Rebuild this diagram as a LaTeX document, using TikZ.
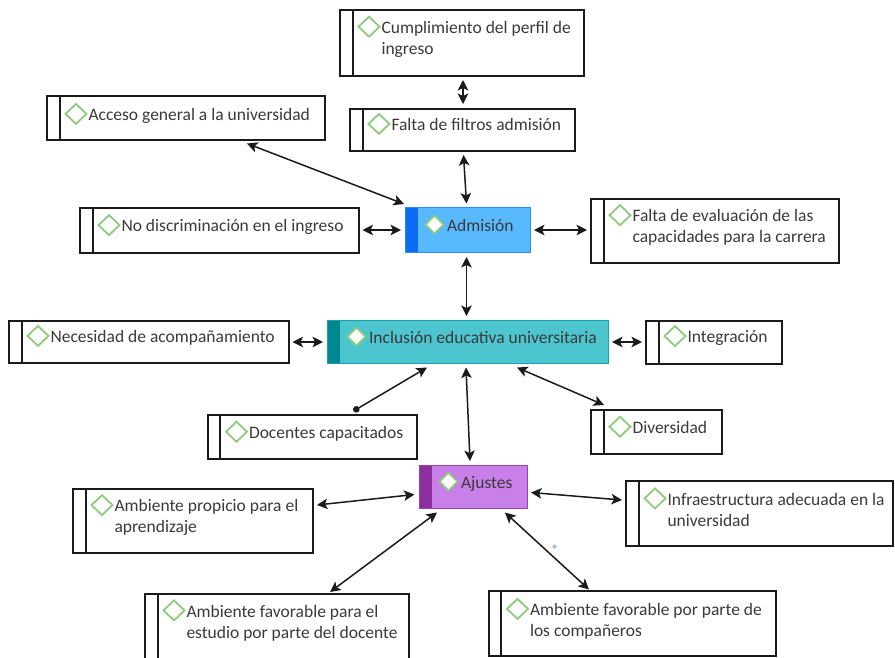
\documentclass[tikz,border=0pt]{standalone}
\usepackage{fontspec}
\setmainfont{Carlito}
\usetikzlibrary{calc,arrows.meta}
\definecolor{boxline}{HTML}{1A1A1A}
\definecolor{txtgray}{HTML}{3A3A3A}
\definecolor{dgreen}{HTML}{8FCB7D}
\definecolor{conn}{HTML}{1A1A1A}
\definecolor{admfill}{HTML}{58B9FF}
\definecolor{admstrip}{HTML}{0A6EF5}
\definecolor{admborder}{HTML}{2A8CF0}
\definecolor{incfill}{HTML}{4CC5CE}
\definecolor{incstrip}{HTML}{00878F}
\definecolor{incborder}{HTML}{1BA3AC}
\definecolor{ajufill}{HTML}{C880E8}
\definecolor{ajustrip}{HTML}{8C2E9E}
\definecolor{ajuborder}{HTML}{9B3FB5}
\definecolor{stray}{HTML}{A8C0E0}
\tikzset{
  wbox/.style={draw=boxline, line width=2pt, fill=white, outer sep=0pt, inner sep=0pt,
    path picture={\draw[boxline, line width=2pt]
      ([xshift=12.5pt]path picture bounding box.north west) --
      ([xshift=12.5pt]path picture bounding box.south west);}},
  cbox/.style={line width=1pt, outer sep=0pt, inner sep=0pt},
  cadm/.style={cbox, draw=admborder, fill=admfill,
    path picture={\fill[admstrip] (path picture bounding box.north west) rectangle
      ([xshift=13pt]path picture bounding box.south west);}},
  cinc/.style={cbox, draw=incborder, fill=incfill,
    path picture={\fill[incstrip] (path picture bounding box.north west) rectangle
      ([xshift=13pt]path picture bounding box.south west);}},
  caju/.style={cbox, draw=ajuborder, fill=ajufill,
    path picture={\fill[ajustrip] (path picture bounding box.north west) rectangle
      ([xshift=13pt]path picture bounding box.south west);}},
  txt/.style={anchor=north west, inner sep=0pt, outer sep=0pt, align=left,
    font=\fontsize{17.5}{21}\selectfont, text=txtgray},
  diam/.style={draw=dgreen, line width=1.8pt, line join=miter},
  tipa/.tip={Stealth[length=10.5pt,width=10.5pt,inset=2.5pt]},
  con/.style={draw=conn, line width=1.5pt, arrows={tipa-tipa}},
  condot/.style={draw=conn, line width=1.5pt, arrows={Circle[length=6.5pt]-tipa}}
}
% white box: name, x1, y1, x2, y2, baseline offset, text
\newcommand\wb[7]{%
  \node[wbox, minimum width={#4-#2}, minimum height={#5-#3}] (#1) at ({(#2+#4)/2},{(#3+#5)/2}) {};
  \draw[diam] ($(#1.north west)+(29,#6-6.6)$) +(-10.5,0) -- +(0,-10) -- +(10.5,0) -- +(0,10) -- cycle;
  \node[txt] (#1-t) at ($(#1.north west)+(41.5,#6-14.7)$) {\strut #7};
}
% coloured box: name, style, x1, y1, x2, y2, baseline offset, text
\newcommand\cb[8]{%
  \node[#2, minimum width={#5-#3}, minimum height={#6-#4}] (#1) at ({(#3+#5)/2},{(#4+#6)/2}) {};
  \draw[diam, fill=white] ($(#1.north west)+(29.5,#7-6.6)$) +(-9,0) -- +(0,-9) -- +(9,0) -- +(0,9) -- cycle;
  \node[txt] (#1-t) at ($(#1.north west)+(42,#7-14.7)$) {\strut #8};
}
\begin{document}
\begin{tikzpicture}[x=1pt, y=-1pt]
\useasboundingbox (0,0) rectangle (895,657);
% boxes
\wb{cump}{340}{10}{584}{75.5}{23.3}{Cumplimiento del perfil de\\ingreso}
\wb{filt}{350}{108.5}{575}{151}{22}{Falta de filtros admisión}
\wb{acc}{47}{96}{325}{139.5}{24.5}{Acceso general a la universidad}
\wb{nod}{80}{207.5}{358.5}{252.5}{24.2}{No discriminación en el ingreso}
\cb{adm}{cadm}{405}{207.5}{530}{252.5}{23.7}{Admisión}
\wb{eval}{591}{198.5}{838.5}{262.5}{23.3}{Falta de evaluación de las\\capacidades para la carrera}
\wb{nec}{9}{321}{288.5}{362.5}{21.5}{Necesidad de acompañamiento}
\cb{inc}{cinc}{327}{320}{608}{363.5}{23.3}{Inclusión educativa universitaria}
\wb{integ}{646}{320.5}{782}{363.5}{22.2}{Integración}
\wb{doc}{207.5}{415}{416.5}{459}{23.3}{Docentes capacitados}
\wb{div}{591}{409.5}{721.5}{453.5}{23.8}{Diversidad}
\cb{aju}{caju}{419}{465.5}{527}{508.5}{22.8}{Ajustes}
\wb{prop}{73}{489}{313}{552.5}{22.7}{Ambiente propicio para el\\aprendizaje}
\wb{infra}{626}{481}{893}{546}{24}{Infraestructura adecuada en la\\universidad}
\wb{amd}{145}{594}{408.5}{662}{23}{Ambiente favorable para el\\estudio por parte del docente}
\wb{comp}{488.5}{591}{776}{656}{24.5}{Ambiente favorable por parte de\\los compañeros}
% connectors
\draw[con] ($(cump.north west)+(123,70)$) -- ($(filt.north west)+(113,-4.5)$);
\draw[con] ($(filt.north west)+(113.5,46.5)$) -- ($(adm.north west)+(61.5,-4)$);
\draw[con] ($(acc.north west)+(200,47.5)$) -- ($(adm.north west)+(-1,-3.5)$);
\draw[con] ($(nod.north west)+(282.5,22.5)$) -- ($(adm.north west)+(-4,22.5)$);
\draw[con] ($(adm.north west)+(129,22.5)$) -- ($(eval.north west)+(-4,31.5)$);
\draw[con] ($(adm.north west)+(61.5,49.5)$) -- ($(inc.north west)+(139.5,-4)$);
\draw[con] ($(nec.north west)+(283.5,21)$) -- ($(inc.north west)+(-4,22)$);
\draw[con] ($(inc.north west)+(285,22)$) -- ($(integ.north west)+(-4,21.5)$);
\draw[condot] ($(doc.north west)+(146,-4)$) -- ($(inc.north west)+(100,47.5)$);
\draw[con] ($(inc.north west)+(190,47.5)$) -- ($(div.north west)+(13,-4.5)$);
\draw[con] ($(inc.north west)+(139,47.5)$) -- ($(aju.north west)+(51,-4.5)$);
\draw[con] ($(aju.north west)+(-4.5,29)$) -- ($(prop.north west)+(244,16)$);
\draw[con] ($(aju.north west)+(112,27)$) -- ($(infra.north west)+(-4,19)$);
\draw[con] ($(aju.north west)+(18,47)$) -- ($(amd.north west)+(185,-2)$);
\draw[con] ($(aju.north west)+(86,47)$) -- ($(comp.north west)+(100.5,-1.5)$);
% small stray mark
\fill[stray] (554.5,544) -- (557,546.5) -- (554.5,549) -- (552,546.5) -- cycle;
\end{tikzpicture}
\end{document}
